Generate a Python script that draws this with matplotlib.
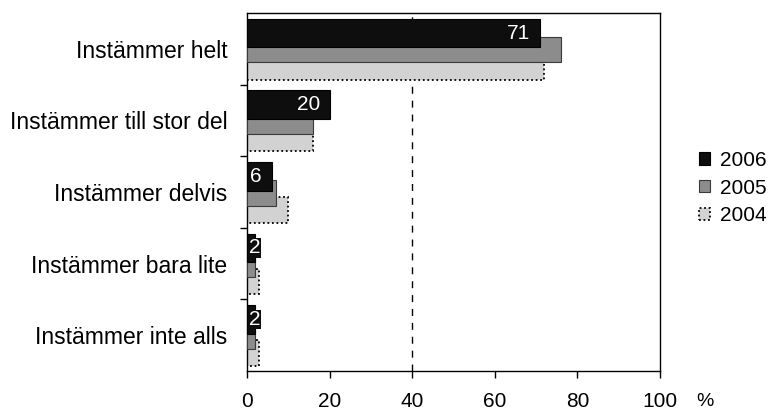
import matplotlib
matplotlib.use("Agg")
import matplotlib.pyplot as plt
import numpy as np

plt.rcParams['font.family'] = ['Liberation Sans', 'DejaVu Sans']

categories = ["Instämmer helt", "Instämmer till stor del", "Instämmer delvis",
              "Instämmer bara lite", "Instämmer inte alls"]
years = ["2006", "2005", "2004"]
values_2006 = [71, 20, 6, 2, 2]
values_2005 = [76, 16, 7, 2, 2]
values_2004 = [72, 16, 10, 3, 3]
x_ticks = [0, 20, 40, 60, 80, 100]
reference_line = 40

W, H = 769, 412
fig = plt.figure(figsize=(W / 100, H / 100), dpi=100)
ax = fig.add_axes([247 / W, 1 - 371 / H, (660 - 247) / W, (371 - 13) / H])

y = np.arange(len(categories))

# drawn back to front: 2004 underneath, 2006 on top
styles = {
    "2004": dict(color="#d2d2d2", edgecolor="black", linestyle=(0, (1, 1.5)),
                 linewidth=1.3, height=0.36, offset=0.25, z=2),
    "2005": dict(color="#8c8c8c", edgecolor="#3a3a3a", linestyle="-",
                 linewidth=0.8, height=0.36, offset=0.01, z=3),
    "2006": dict(color="#0e0e0e", edgecolor="black", linestyle="-",
                 linewidth=0.8, height=0.40, offset=-0.22, z=4),
}
series = {"2006": values_2006, "2005": values_2005, "2004": values_2004}
handles = {}
for yr in ["2004", "2005", "2006"]:
    s = styles[yr]
    bars = ax.barh(y + s["offset"], series[yr], height=s["height"],
                   color=s["color"], edgecolor=s["edgecolor"],
                   linestyle=s["linestyle"], linewidth=s["linewidth"],
                   zorder=s["z"], label=yr)
    handles[yr] = bars

# value labels on the 2006 bars
for yi, v in zip(y, values_2006):
    yc = yi + styles["2006"]["offset"]
    if v >= 5:
        ax.annotate(str(v), xy=(v, yc), xytext=(-7, 0), textcoords="offset points",
                    ha="right", va="center", color="white", fontsize=15, zorder=6)
    else:
        ax.annotate(str(v), xy=(0, yc), xytext=(1.5, 0), textcoords="offset points",
                    ha="left", va="center", color="white", fontsize=15, zorder=6,
                    bbox=dict(boxstyle="square,pad=0.02", fc="#0e0e0e", ec="none"))

ax.axvline(reference_line, color="black", linewidth=1.0,
           linestyle=(0, (5, 5)), zorder=1)

ax.set_xlim(0, 100)
ax.set_ylim(len(categories) - 0.5, -0.5)
ax.set_xticks(x_ticks)
ax.set_xticklabels([str(t) for t in x_ticks], fontsize=15)
ax.tick_params(axis="x", direction="out", length=5, width=1, pad=10)

ax.set_yticks(y)
ax.set_yticklabels(categories, fontsize=16.5)
ax.tick_params(axis="y", which="major", length=0, pad=14)
ax.set_yticks(np.arange(len(categories) - 1) + 0.5, minor=True)
ax.tick_params(axis="y", which="minor", direction="out", length=5, width=1)

for sp in ax.spines.values():
    sp.set_color("black")
    sp.set_linewidth(1.0)

fig.text(705 / W, 1 - 401 / H, "%", fontsize=14, ha="center", va="center")

fig.legend([handles["2006"], handles["2005"], handles["2004"]], years,
           loc="center left", bbox_to_anchor=(699 / W, 1 - 188 / H),
           frameon=False, fontsize=15, handlelength=0.55, handleheight=0.55,
           handletextpad=0.45, labelspacing=0.42, borderpad=0, borderaxespad=0)

fig.savefig("out.png", dpi=100)
